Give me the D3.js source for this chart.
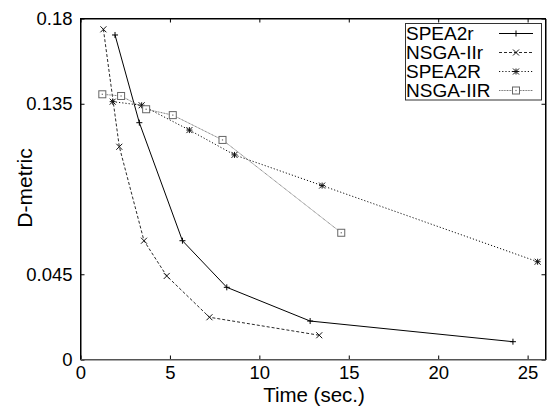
<!DOCTYPE html>
<html>
<head>
<meta charset="utf-8">
<script src="https://cdn.jsdelivr.net/npm/d3@7"></script>
<style>
  body { margin: 0; background: #fff; }
  svg { font-family: "Liberation Sans", Arial, sans-serif; }
</style>
</head>
<body>
<script>
// values
const seriesNames = ["SPEA2r", "NSGA-IIr", "SPEA2R", "NSGA-IIR"];
const spea2rTime = [1.93, 3.29, 5.70, 8.18, 12.84, 24.18];
const spea2rD = [0.1713, 0.125, 0.0627, 0.0381, 0.0203, 0.0094];
const nsga2rTime = [1.28, 2.17, 3.55, 4.82, 7.21, 13.35];
const nsga2rD = [0.1743, 0.1123, 0.0627, 0.0441, 0.0223, 0.0128];
const spea2RTime = [1.80, 3.42, 6.09, 8.61, 13.51, 25.56];
const spea2RD = [0.1361, 0.1342, 0.1211, 0.108, 0.0918, 0.0516];
const nsga2RTime = [1.22, 2.27, 3.67, 5.16, 7.94, 14.58];
const nsga2RD = [0.140, 0.1391, 0.1321, 0.129, 0.1159, 0.0669];
const xTicks = [0, 5, 10, 15, 20, 25];
const yTicks = [0, 0.045, 0.135, 0.18];
const yTickLabels = ["0", "0.045", "0.135", "0.18"];

const width = 549;
const height = 409;
const margin = { top: 18.5, right: 3.5, bottom: 49.5, left: 80.5 };

const svg = d3.select("body").append("svg")
  .attr("width", width)
  .attr("height", height);

const x = d3.scaleLinear().domain([0, 26]).range([margin.left, width - margin.right]);
const y = d3.scaleLinear().domain([0, 0.18]).range([height - margin.bottom, margin.top]);

const zip = (xs, ys) => xs.map((v, i) => [v, ys[i]]);
const series = [
  { name: seriesNames[0], pts: zip(spea2rTime, spea2rD), color: "#000", width: 1, dash: null, mark: "plus" },
  { name: seriesNames[1], pts: zip(nsga2rTime, nsga2rD), color: "#111", width: 0.9, dash: "3,2", mark: "cross" },
  { name: seriesNames[2], pts: zip(spea2RTime, spea2RD), color: "#111", width: 1, dash: "1.2,2", mark: "star" },
  { name: seriesNames[3], pts: zip(nsga2RTime, nsga2RD), color: "#666", width: 0.9, dash: "1,0.6", mark: "box" }
];

// axes, ticks pointing inward, mirrored on top and right
const fmtY = (d) => yTickLabels[yTicks.indexOf(d)];
svg.append("g")
  .attr("transform", `translate(0,${height - margin.bottom})`)
  .call(d3.axisBottom(x).tickValues(xTicks).tickSizeInner(-4).tickSizeOuter(0).tickPadding(6).tickFormat(d3.format("d")))
  .call((g) => g.select(".domain").attr("stroke", "#555"))
  .call((g) => g.selectAll("text").attr("font-size", 18.5).attr("fill", "#000"));

svg.append("g")
  .attr("transform", `translate(${margin.left},0)`)
  .call(d3.axisLeft(y).tickValues(yTicks).tickSizeInner(-4).tickSizeOuter(0).tickPadding(8).tickFormat(fmtY))
  .call((g) => g.selectAll("text").attr("font-size", 18.5).attr("fill", "#000"));

svg.append("g")
  .attr("transform", `translate(0,${margin.top})`)
  .call(d3.axisTop(x).tickValues(xTicks).tickSizeInner(-4).tickSizeOuter(0).tickFormat(""));

svg.append("g")
  .attr("transform", `translate(${width - margin.right},0)`)
  .call(d3.axisRight(y).tickValues(yTicks).tickSizeInner(-4).tickSizeOuter(0).tickFormat(""));

svg.append("text")
  .attr("x", 314).attr("y", 402)
  .attr("text-anchor", "middle")
  .attr("font-size", 20.5)
  .text("Time (sec.)");

svg.append("text")
  .attr("transform", "translate(32,188) rotate(-90)")
  .attr("text-anchor", "middle")
  .attr("font-size", 21)
  .text("D-metric");

function drawMark(g, kind, cx, cy, color) {
  const r = 3;
  const p = g.append("g").attr("stroke", color).attr("stroke-width", 1).attr("fill", "none");
  if (kind === "plus" || kind === "star") {
    p.append("line").attr("x1", cx - r).attr("x2", cx + r).attr("y1", cy).attr("y2", cy);
    p.append("line").attr("x1", cx).attr("x2", cx).attr("y1", cy - r).attr("y2", cy + r);
  }
  if (kind === "cross" || kind === "star") {
    p.append("line").attr("x1", cx - r).attr("x2", cx + r).attr("y1", cy - r).attr("y2", cy + r);
    p.append("line").attr("x1", cx - r).attr("x2", cx + r).attr("y1", cy + r).attr("y2", cy - r);
  }
  if (kind === "box") {
    p.append("rect").attr("x", cx - 3.5).attr("y", cy - 3.5).attr("width", 7).attr("height", 7).attr("fill", "#fff");
    p.append("rect").attr("x", cx - 0.6).attr("y", cy - 0.6).attr("width", 1.2).attr("height", 1.2).attr("fill", color).attr("stroke", "none");
  }
}

const line = d3.line().x((d) => x(d[0])).y((d) => y(d[1]));

series.forEach((s) => {
  svg.append("path")
    .datum(s.pts)
    .attr("d", line)
    .attr("fill", "none")
    .attr("stroke", s.color)
    .attr("stroke-width", s.width)
    .attr("stroke-dasharray", s.dash);
  s.pts.forEach((d) => drawMark(svg, s.mark, x(d[0]), y(d[1]), s.color));
});

// legend
const legend = svg.append("g");
legend.append("rect")
  .attr("x", 405.5).attr("y", 23.5).attr("width", 136).attr("height", 76.5)
  .attr("fill", "#fff").attr("stroke", "#333").attr("stroke-width", 1);

series.forEach((s, i) => {
  const by = 40 + i * 19;
  legend.append("text")
    .attr("x", 406).attr("y", by)
    .attr("font-size", 19)
    .text(s.name);
  legend.append("line")
    .attr("x1", 499).attr("x2", 533).attr("y1", by - 6.5).attr("y2", by - 6.5)
    .attr("stroke", s.color).attr("stroke-width", s.width)
    .attr("stroke-dasharray", s.dash);
  drawMark(legend, s.mark, 516, by - 6.5, s.color);
});

// frame
svg.append("rect")
  .attr("x", margin.left).attr("y", margin.top)
  .attr("width", width - margin.right - margin.left)
  .attr("height", height - margin.bottom - margin.top)
  .attr("fill", "none").attr("stroke", "#000").attr("stroke-width", 1);
svg.append("line")
  .attr("x1", margin.left).attr("x2", width - margin.right)
  .attr("y1", height - margin.bottom).attr("y2", height - margin.bottom)
  .attr("stroke", "#555");
</script>
</body>
</html>
